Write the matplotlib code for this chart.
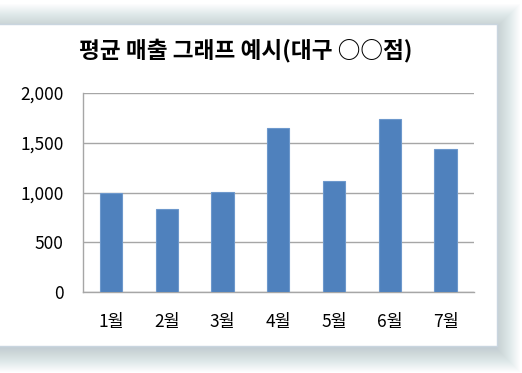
import matplotlib
matplotlib.use('Agg')
import matplotlib.pyplot as plt
from matplotlib.patches import Rectangle
from matplotlib.ticker import FuncFormatter

months = ['1월', '2월', '3월', '4월', '5월', '6월', '7월']
sales = [1000, 830, 1010, 1650, 1120, 1740, 1440]
y_ticks = [0, 500, 1000, 1500, 2000]
title = '평균 매출 그래프 예시(대구 ○○점)'

plt.rcParams['font.family'] = ['Noto Sans CJK KR', 'DejaVu Sans']

W, H = 522, 373
fig = plt.figure(figsize=(W / 100, H / 100), dpi=100)
fig.patch.set_facecolor('white')


def px_box(x0, y0, x1, y1):
    # pixel box (top-left origin) -> figure fraction (left, bottom, w, h)
    return x0 / W, (H - y1) / H, (x1 - x0) / W, (y1 - y0) / H


# soft drop shadow behind the chart panel
panel = (-10, 24, 497, 346)
for i in range(24):
    l, b, w, h = px_box(panel[0] - i, panel[1] - i + 3, panel[2] + i, panel[3] + i + 3)
    fig.patches.append(Rectangle((l, b), w, h, transform=fig.transFigure,
                                 facecolor='#5f7f9a', edgecolor='none',
                                 alpha=0.017, zorder=0))
l, b, w, h = px_box(*panel)
fig.patches.append(Rectangle((l, b), w, h, transform=fig.transFigure,
                             facecolor='white', edgecolor='#c9d5df',
                             linewidth=1, zorder=1))

ax = fig.add_axes(px_box(83, 93, 473.5, 292))
ax.set_zorder(3)
ax.set_facecolor('none')
ax.bar(months, sales, width=0.4, color='#4f81bd', edgecolor='#6d98cc',
       linewidth=0.8, zorder=3)

ax.set_ylim(0, 2000)
ax.set_xlim(-0.5, len(months) - 0.5)
ax.set_yticks(y_ticks)
ax.yaxis.set_major_formatter(FuncFormatter(lambda v, _: f'{int(v):,}'))
ax.grid(axis='y', color='#a6a6a6', linewidth=1, zorder=0)
ax.tick_params(length=0, labelsize=12.5, colors='black')
ax.tick_params(axis='y', pad=14)
ax.tick_params(axis='x', pad=15)

for side in ('top', 'right'):
    ax.spines[side].set_visible(False)
for side in ('left', 'bottom'):
    ax.spines[side].set_color('#a6a6a6')
    ax.spines[side].set_linewidth(1)

fig.text(246 / W, 1 - 50 / H, title, ha='center', va='center',
         fontsize=16.3, fontweight='bold', zorder=5)

fig.savefig('out.png', dpi=100)
